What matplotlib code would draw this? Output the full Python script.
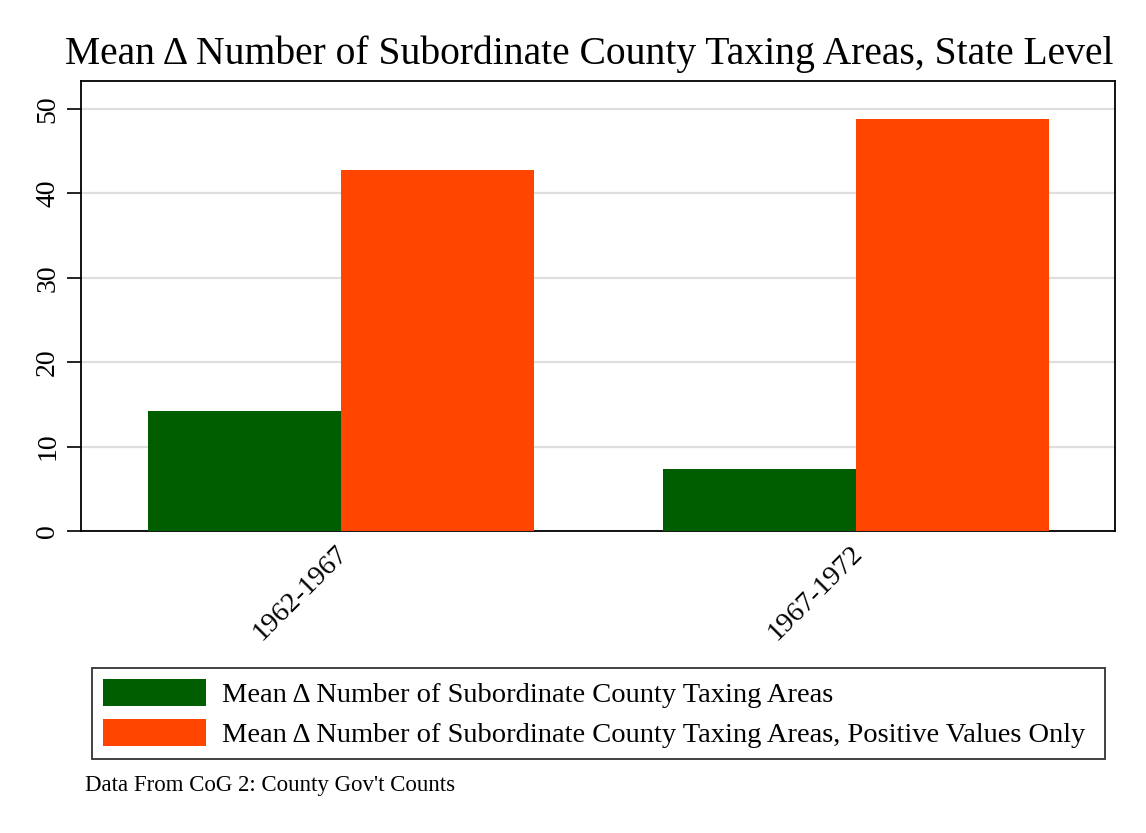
import matplotlib
matplotlib.use("Agg")
import numpy as np
import matplotlib.pyplot as plt
from matplotlib.transforms import ScaledTranslation

plt.rcParams['font.family'] = ['Liberation Serif', 'DejaVu Serif']

periods = ["1962-1967", "1967-1972"]
mean_all = [14.18, 7.33]
mean_positive = [42.72, 48.78]
series_labels = ["Mean \u0394 Number of Subordinate County Taxing Areas",
                 "Mean \u0394 Number of Subordinate County Taxing Areas, Positive Values Only"]
yticks = [0, 10, 20, 30, 40, 50]

green = "#005e00"
orange = "#ff4500"

fig = plt.figure(figsize=(11.46, 8.33), dpi=100)
ax = fig.add_axes([81/1146, 1 - 531/833, (1115-81)/1146, (531-81)/833])

x = np.arange(len(periods))
w = 0.375
b1 = ax.bar(x - w/2, mean_all, w, color=green, label=series_labels[0], zorder=3)
b2 = ax.bar(x + w/2, mean_positive, w, color=orange, label=series_labels[1], zorder=3)

ax.set_xlim(-0.505, 1.503)
ax.set_ylim(0, 53.3)
ax.set_yticks(yticks)
ax.set_yticklabels([str(t) for t in yticks], rotation=90, va='center', fontsize=20)
ax.yaxis.grid(True, color='#dedede', linewidth=1.6, zorder=0)
ax.set_axisbelow(True)
ax.tick_params(axis='y', length=10, width=1.2, pad=5)
ax.set_xticks(x)
ax.set_xticklabels(periods, rotation=45, ha='right', rotation_mode='anchor', fontsize=20.5)
ax.tick_params(axis='x', length=0, pad=7)
shift = ScaledTranslation(-6/100, 0, fig.dpi_scale_trans)
for lbl in ax.get_xticklabels():
    lbl.set_transform(lbl.get_transform() + shift)
for s in ax.spines.values():
    s.set_linewidth(1.3)

fig.suptitle("Mean \u0394 Number of Subordinate County Taxing Areas, State Level",
             x=589/1146, y=1 - 54/833, va='center', fontsize=28.5)

leg = fig.legend(handles=[b1, b2], labels=series_labels,
                 loc='upper left', mode='expand',
                 bbox_to_anchor=(92/1146, 1 - 760/833, (1105-92)/1146, 92/833),
                 fontsize=20.5, frameon=True, fancybox=False, edgecolor='black',
                 handlelength=3.6, handleheight=1.05, handletextpad=0.55,
                 labelspacing=0.38, borderpad=0.4, borderaxespad=0)
leg.get_frame().set_linewidth(1.3)

fig.text(85/1146, 1 - 786/833, "Data From CoG 2: County Gov't Counts",
         fontsize=16.5, va='center', ha='left')

fig.savefig("out.png", dpi=100, facecolor='white')
